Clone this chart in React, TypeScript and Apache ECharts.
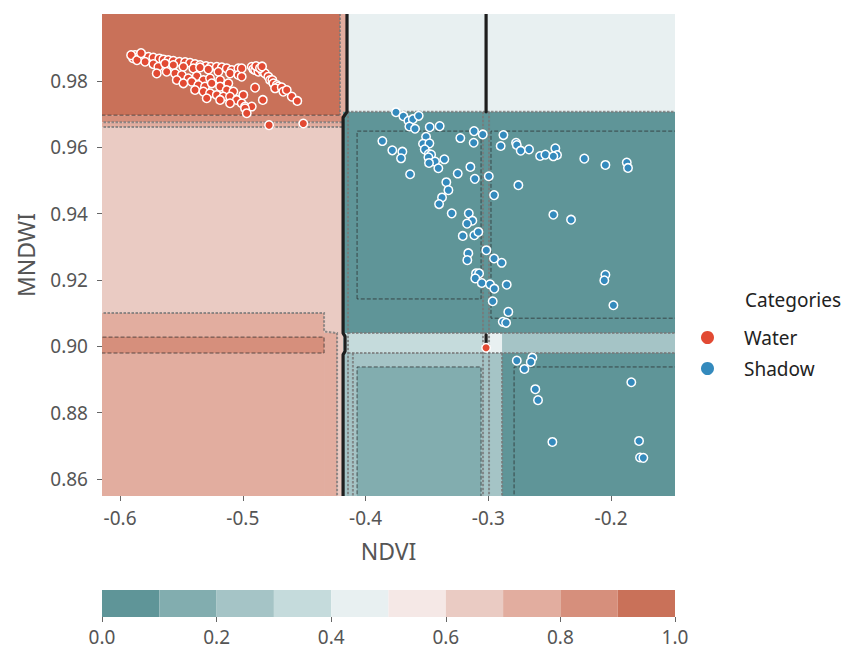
import React, { useEffect, useRef } from "react";
import * as echarts from "echarts";

// ---- axis ranges & ticks ----
const ndviRange = [-0.6147, -0.1479];
const mndwiRange = [0.8549, 1.0002];
const ndviTicks = [-0.6, -0.5, -0.4, -0.3, -0.2];
const mndwiTicks = [0.86, 0.88, 0.9, 0.92, 0.94, 0.96, 0.98];

// ---- probability levels (colorbar) ----
const levelBounds = [0, 0.1, 0.2, 0.3, 0.4, 0.5, 0.6, 0.7, 0.8, 0.9, 1.0];
const levelColors = [
  "#5f9598", "#82adaf", "#a5c4c6", "#c5dbdc", "#e8f0f1",
  "#f5e8e6", "#eacbc3", "#e2ad9f", "#d68f7c", "#c97159",
];

// ---- decision surface cells: [ndvi0, ndvi1, mndwi0, mndwi1, probability] ----
const surfaceCells = [
  [-0.6147, -0.4208, 0.9697, 1.0002, 0.95],
  [-0.4208, -0.4151, 0.9697, 1.0002, 0.75],
  [-0.6147, -0.4183, 0.9676, 0.9697, 0.85],
  [-0.6147, -0.4183, 0.9661, 0.9676, 0.75],
  [-0.6147, -0.4183, 0.8549, 0.9661, 0.65],
  [-0.6147, -0.4338, 0.8549, 0.9101, 0.75],
  [-0.4338, -0.4232, 0.8549, 0.904, 0.75],
  [-0.6147, -0.4338, 0.898, 0.9028, 0.85],
  [-0.4151, -0.1479, 0.9707, 1.0002, 0.45],
  [-0.4183, -0.1479, 0.904, 0.9707, 0.05],
  [-0.4183, -0.3043, 0.898, 0.904, 0.35],
  [-0.3043, -0.2888, 0.898, 0.904, 0.45],
  [-0.2888, -0.1479, 0.898, 0.904, 0.25],
  [-0.4183, -0.2888, 0.8549, 0.898, 0.25],
  [-0.4069, -0.3059, 0.8549, 0.8938, 0.15],
  [-0.2888, -0.1479, 0.8549, 0.898, 0.05],
];

// ---- contour lines ----
const darkContours = [
  [[-0.4069, 0.9143], [-0.4069, 0.9649], [-0.3059, 0.9649], [-0.3059, 0.9143], [-0.4069, 0.9143]],
  [[-0.14, 0.9085], [-0.2978, 0.9085], [-0.2978, 0.9649], [-0.14, 0.9649]],
  [[-0.4069, 0.85], [-0.4069, 0.8938], [-0.3059, 0.8938], [-0.3059, 0.85]],
  [[-0.14, 0.8938], [-0.279, 0.8938], [-0.279, 0.85]],
  [[-0.62, 0.898], [-0.4338, 0.898], [-0.4338, 0.9028], [-0.62, 0.9028]],
  [[-0.62, 0.9697], [-0.4208, 0.9697]],
];
const greyContours = [
  [[-0.62, 0.9676], [-0.4183, 0.9676]],
  [[-0.62, 0.9661], [-0.4183, 0.9661]],
  [[-0.62, 0.9101], [-0.4338, 0.9101], [-0.4338, 0.9045], [-0.4232, 0.904], [-0.4232, 0.85]],
  [[-0.4208, 1.01], [-0.4208, 0.9697]],
  [[-0.4151, 0.9707], [-0.14, 0.9707]],
  [[-0.4143, 0.9707], [-0.4143, 0.85]],
  [[-0.4143, 0.904], [-0.14, 0.904]],
  [[-0.4143, 0.898], [-0.14, 0.898]],
  [[-0.3043, 0.9707], [-0.3043, 0.85]],
  [[-0.2994, 0.9707], [-0.2994, 0.85]],
  [[-0.2888, 0.898], [-0.2888, 0.85]],
  [[-0.4103, 0.898], [-0.4103, 0.85]],
];
const boundaryContours = [
  [[-0.4151, 1.01], [-0.4151, 0.9707], [-0.4183, 0.969], [-0.4183, 0.904], [-0.4167, 0.903], [-0.4167, 0.8985], [-0.4183, 0.8975], [-0.4183, 0.85]],
  [[-0.3018, 1.01], [-0.3018, 0.9707]],
  [[-0.3018, 0.9035], [-0.3018, 0.899]],
];

// ---- samples ----
const waterNDVI = [
  -0.5878, -0.5851, -0.581, -0.5769, -0.5729, -0.568, -0.5647, -0.5607, -0.5566, -0.5517,
  -0.547, -0.543, -0.5389, -0.5348, -0.5299, -0.5261, -0.5212, -0.5171, -0.5131, -0.509,
  -0.5036, -0.5796, -0.5729, -0.5688, -0.5633, -0.5566, -0.5484, -0.5403, -0.5348, -0.5281,
  -0.5199, -0.5104, -0.5036, -0.5701, -0.562, -0.5552, -0.5497, -0.5444, -0.5375, -0.5321,
  -0.5267, -0.5185, -0.5118, -0.5538, -0.5484, -0.5416, -0.5362, -0.5308, -0.5253, -0.5185,
  -0.5131, -0.5077, -0.5389, -0.5321, -0.5267, -0.5212, -0.5158, -0.5104, -0.5049, -0.5009,
  -0.4982, -0.5294, -0.5185, -0.5104, -0.5894, -0.591, -0.5862, -0.5829, -0.5009, -0.5009,
  -0.4996, -0.4927, -0.4982, -0.4968,
  -0.4927, -0.4914, -0.49, -0.4873, -0.4837, -0.4819, -0.4792, -0.4778, -0.4759, -0.4751,
  -0.4723, -0.471, -0.4737, -0.4683, -0.467, -0.4642, -0.4601, -0.4556, -0.4892, -0.486,
  -0.4843, -0.49, -0.4837, -0.4786, -0.4507, -0.3018,
];
const waterMNDWI = [
  0.9878, 0.9873, 0.9875, 0.9873, 0.9871, 0.9868, 0.9865, 0.9863, 0.9861, 0.9858,
  0.9857, 0.9855, 0.9851, 0.9848, 0.9845, 0.9843, 0.9843, 0.9841, 0.9838, 0.9833,
  0.9838, 0.9858, 0.9851, 0.9843, 0.9853, 0.9848, 0.9843, 0.9838, 0.9841, 0.9835,
  0.9828, 0.9823, 0.9818, 0.9823, 0.9828, 0.9823, 0.9818, 0.9808, 0.9815, 0.9803,
  0.9808, 0.9803, 0.9793, 0.9803, 0.9793, 0.9798, 0.9788, 0.9783, 0.9793, 0.9783,
  0.9773, 0.9768, 0.9773, 0.9768, 0.9763, 0.9758, 0.9753, 0.9753, 0.9743, 0.9733,
  0.9723, 0.9748, 0.9743, 0.9733, 0.9869, 0.9878, 0.9863, 0.9884, 0.9838, 0.9813,
  0.9758, 0.9723, 0.9718, 0.9703,
  0.9843, 0.9836, 0.9833, 0.9828, 0.9828, 0.9823, 0.9813, 0.9803, 0.9803, 0.9793,
  0.9788, 0.9783, 0.9778, 0.9781, 0.9768, 0.9773, 0.9753, 0.974, 0.9845, 0.9839,
  0.9844, 0.978, 0.9743, 0.9667, 0.9672, 0.8996,
];
const shadowNDVI = [
  -0.3752, -0.3692, -0.3651, -0.3615, -0.3567, -0.3643, -0.3597, -0.3477, -0.3396, -0.3863,
  -0.3782, -0.37, -0.3711, -0.3507, -0.3532, -0.348, -0.3518, -0.3485, -0.3466, -0.3488,
  -0.3434, -0.3483, -0.3358, -0.3407, -0.3637, -0.3228, -0.3116, -0.3119, -0.3146, -0.3249,
  -0.311, -0.3342, -0.3325, -0.3377, -0.3401, -0.3298, -0.3159, -0.313, -0.3173, -0.3208,
  -0.3114, -0.3081, -0.3163, -0.3171, -0.3016, -0.2953, -0.2953, -0.2891, -0.31, -0.3075,
  -0.3106, -0.3053, -0.2986, -0.2951, -0.285, -0.2964, -0.2837, -0.2882, -0.2855, -0.3045,
  -0.2877, -0.2899, -0.2774, -0.2768, -0.2736, -0.2668, -0.2578, -0.2535, -0.2454, -0.244,
  -0.247, -0.2218, -0.2046, -0.1872, -0.1862, -0.2996, -0.2755, -0.247, -0.2326, -0.2046,
  -0.2055, -0.1981, -0.2768, -0.2641, -0.2654, -0.2706, -0.2617, -0.2595, -0.1835, -0.2478,
  -0.1772, -0.1764, -0.1737,
];
const shadowMNDWI = [
  0.9706, 0.9694, 0.968, 0.9685, 0.9695, 0.9663, 0.9656, 0.9661, 0.9664, 0.9619,
  0.9591, 0.9587, 0.9567, 0.9632, 0.9611, 0.9612, 0.9594, 0.958, 0.9578, 0.957,
  0.9557, 0.9553, 0.9564, 0.9537, 0.9519, 0.9628, 0.9649, 0.9614, 0.9541, 0.9521,
  0.9505, 0.9495, 0.9471, 0.9449, 0.9429, 0.9401, 0.9401, 0.9379, 0.937, 0.9333,
  0.9335, 0.9345, 0.9281, 0.926, 0.929, 0.9456, 0.9265, 0.9252, 0.922, 0.922,
  0.9205, 0.9191, 0.9187, 0.9174, 0.9186, 0.9136, 0.9104, 0.9074, 0.9071, 0.9639,
  0.9637, 0.9604, 0.9614, 0.9607, 0.959, 0.9594, 0.9574, 0.9578, 0.9597, 0.9577,
  0.9573, 0.9566, 0.9547, 0.9554, 0.9538, 0.9513, 0.9486, 0.9397, 0.9382, 0.9216,
  0.9199, 0.9124, 0.8957, 0.8966, 0.8953, 0.8932, 0.8871, 0.8838, 0.8892, 0.8712,
  0.8715, 0.8665, 0.8664,
];

const FONT = "Noto Sans";
const zip = (a: number[], b: number[]) => a.map((v, i) => [v, b[i]]);

export default function App() {
  const ref = useRef<HTMLDivElement>(null);
  useEffect(() => {
    if (!ref.current) return;
    const chart = echarts.init(ref.current, undefined, { renderer: "svg" });

    const polyRender = (paths: number[][][], style: any) => (params: any, api: any) => {
      const pts = paths[params.dataIndex].map((p) => api.coord(p));
      return { type: "polyline", shape: { points: pts }, style: { fill: "none", ...style } };
    };

    const option: any = {
      animation: false,
      textStyle: { fontFamily: FONT },
      title: {
        text: "Categories",
        left: 740,
        top: 285,
        textStyle: { fontSize: 19, fontWeight: "normal", color: "#222", fontFamily: FONT },
      },
      legend: {
        orient: "vertical",
        left: 696,
        top: 323,
        icon: "circle",
        itemWidth: 13,
        itemHeight: 13,
        itemGap: 12,
        data: ["Water", "Shadow"],
        itemStyle: { borderWidth: 0 },
        textStyle: { fontSize: 19, lineHeight: 19, color: "#222", fontFamily: FONT, padding: [0, 0, 0, 25] },
      },
      grid: [
        { left: 102, right: 189, top: 14, bottom: 171 },
        { left: 102, right: 189, top: 590, height: 27 },
      ],
      xAxis: [
        {
          type: "value",
          gridIndex: 0,
          min: ndviRange[0],
          max: ndviRange[1],
          name: "NDVI",
          nameLocation: "middle",
          nameGap: 43,
          nameTextStyle: { fontSize: 23, color: "#555", fontFamily: FONT },
          axisLine: { show: false },
          splitLine: { show: false },
          axisTick: { show: true, customValues: ndviTicks, length: 5, lineStyle: { color: "#666" } },
          axisLabel: {
            customValues: ndviTicks,
            fontSize: 19,
            color: "#555",
            margin: 12,
            formatter: (v: number) => v.toFixed(1),
          },
        },
        {
          type: "value",
          gridIndex: 1,
          min: 0,
          max: 1,
          interval: 0.2,
          axisLine: { show: false },
          splitLine: { show: false },
          axisTick: { show: true, length: 5, lineStyle: { color: "#666" } },
          axisLabel: { fontSize: 19, color: "#555", margin: 10, formatter: (v: number) => v.toFixed(1) },
        },
      ],
      yAxis: [
        {
          type: "value",
          gridIndex: 0,
          min: mndwiRange[0],
          max: mndwiRange[1],
          name: "MNDWI",
          nameLocation: "middle",
          nameGap: 65,
          nameRotate: 90,
          nameTextStyle: { fontSize: 23, color: "#555", fontFamily: FONT },
          axisLine: { show: false },
          splitLine: { show: false },
          axisTick: { show: true, customValues: mndwiTicks, length: 5, lineStyle: { color: "#666" } },
          axisLabel: {
            customValues: mndwiTicks,
            fontSize: 19,
            color: "#555",
            margin: 14,
            formatter: (v: number) => v.toFixed(2),
          },
        },
        { type: "value", gridIndex: 1, min: 0, max: 1, show: false },
      ],
      series: [
        {
          type: "custom",
          name: "surface",
          xAxisIndex: 0,
          yAxisIndex: 0,
          clip: true,
          silent: true,
          encode: { x: [0, 1], y: [2, 3] },
          data: surfaceCells,
          renderItem: (params: any, api: any) => {
            const a = api.coord([api.value(0), api.value(3)]);
            const b = api.coord([api.value(1), api.value(2)]);
            const lvl = Math.min(9, Math.floor(api.value(4) * 10));
            return {
              type: "rect",
              shape: { x: a[0], y: a[1], width: b[0] - a[0], height: b[1] - a[1] },
              style: { fill: levelColors[lvl] },
            };
          },
          z: 1,
        },
        {
          type: "custom",
          name: "greyContours",
          xAxisIndex: 0,
          yAxisIndex: 0,
          clip: true,
          silent: true,
          data: greyContours.map((_, i) => i),
          renderItem: polyRender(greyContours, { stroke: "rgba(120,120,120,0.8)", lineWidth: 2, lineDash: [2.5, 1.5] }),
          z: 2,
        },
        {
          type: "custom",
          name: "darkContours",
          xAxisIndex: 0,
          yAxisIndex: 0,
          clip: true,
          silent: true,
          data: darkContours.map((_, i) => i),
          renderItem: polyRender(darkContours, { stroke: "rgba(40,40,40,0.8)", lineWidth: 0.9, lineDash: [4, 2] }),
          z: 3,
        },
        {
          type: "custom",
          name: "boundary",
          xAxisIndex: 0,
          yAxisIndex: 0,
          clip: true,
          silent: true,
          data: boundaryContours.map((_, i) => i),
          renderItem: polyRender(boundaryContours, { stroke: "#1e1e1e", lineWidth: 3.2, lineJoin: "round", lineCap: "round" }),
          z: 4,
        },
        {
          type: "scatter",
          name: "Water",
          xAxisIndex: 0,
          yAxisIndex: 0,
          data: zip(waterNDVI, waterMNDWI),
          symbolSize: 8.5,
          itemStyle: { color: "#E24A33", borderColor: "#fff", borderWidth: 1.5, opacity: 1 },
          z: 10,
        },
        {
          type: "scatter",
          name: "Shadow",
          xAxisIndex: 0,
          yAxisIndex: 0,
          data: zip(shadowNDVI, shadowMNDWI),
          symbolSize: 8.5,
          itemStyle: { color: "#348ABD", borderColor: "#fff", borderWidth: 1.5, opacity: 1 },
          z: 10,
        },
        {
          type: "custom",
          name: "colorbar",
          xAxisIndex: 1,
          yAxisIndex: 1,
          silent: true,
          encode: { x: [0, 1] },
          data: levelColors.map((_, i) => [levelBounds[i], levelBounds[i + 1]]),
          renderItem: (params: any, api: any) => {
            const a = api.coord([api.value(0), 1]);
            const b = api.coord([api.value(1), 0]);
            return {
              type: "rect",
              shape: { x: a[0], y: a[1], width: b[0] - a[0], height: b[1] - a[1] },
              style: { fill: levelColors[params.dataIndex] },
            };
          },
        },
      ],
    };
    chart.setOption(option);
    return () => chart.dispose();
  }, []);
  return (
    <div
      ref={ref}
      style={{ position: "absolute", left: 0, top: 0, width: 864, height: 667 }}
    />
  );
}
